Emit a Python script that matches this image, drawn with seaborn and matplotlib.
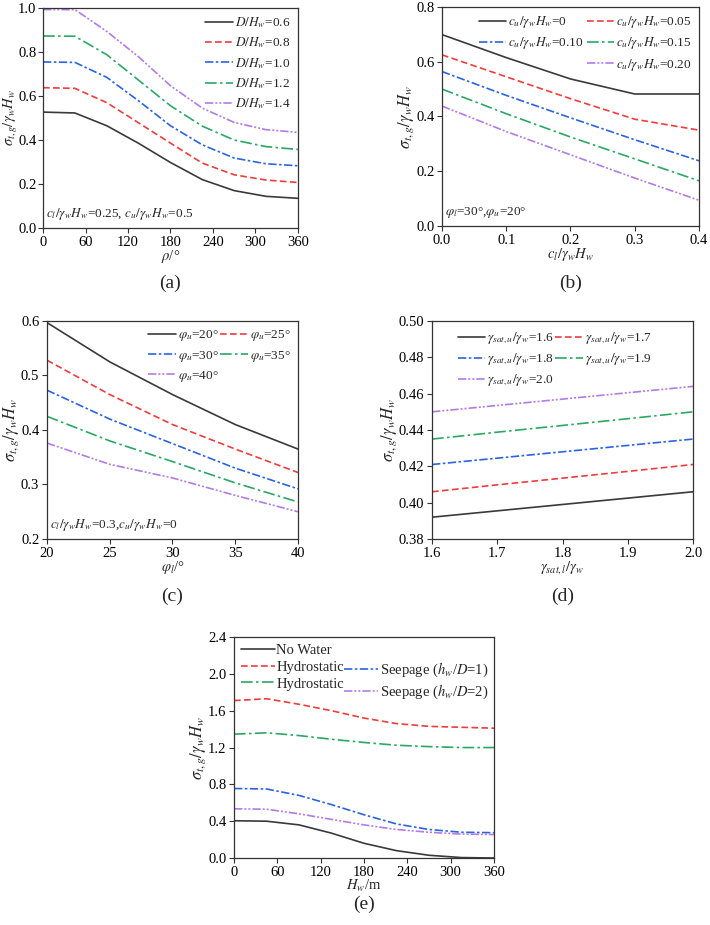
import numpy as np
import pandas as pd
import seaborn as sns
import matplotlib.pyplot as plt
from matplotlib.lines import Line2D

sns.set_style('ticks')
plt.rcParams['font.family'] = ['Liberation Serif', 'DejaVu Serif']
plt.rcParams['mathtext.fontset'] = 'stix'
plt.rcParams['font.size'] = 9.5
plt.rcParams['xtick.labelsize'] = 10.5
plt.rcParams['ytick.labelsize'] = 10.5
plt.rcParams['axes.labelsize'] = 10.5
plt.rcParams['axes.edgecolor'] = '#333333'
plt.rcParams['axes.linewidth'] = 0.9
plt.rcParams['xtick.color'] = '#333333'
plt.rcParams['ytick.color'] = '#333333'
plt.rcParams['xtick.labelcolor'] = 'black'
plt.rcParams['ytick.labelcolor'] = 'black'
plt.rcParams['xtick.major.size'] = 3.5
plt.rcParams['ytick.major.size'] = 3.5
plt.rcParams['xtick.major.pad'] = 2.5
plt.rcParams['ytick.major.pad'] = 2.0

# ---- data ----
# (a)
rho = [0, 45, 90, 135, 180, 225, 270, 315, 360]
a_labels = ['0.6', '0.8', '1.0', '1.2', '1.4']
a_06 = [0.527, 0.523, 0.465, 0.385, 0.298, 0.220, 0.170, 0.144, 0.135]
a_08 = [0.638, 0.635, 0.570, 0.478, 0.386, 0.295, 0.242, 0.218, 0.207]
a_10 = [0.755, 0.753, 0.685, 0.578, 0.465, 0.378, 0.318, 0.292, 0.283]
a_12 = [0.873, 0.872, 0.788, 0.672, 0.556, 0.463, 0.400, 0.370, 0.357]
a_14 = [0.993, 0.993, 0.894, 0.778, 0.647, 0.545, 0.480, 0.447, 0.435]

# (b)
cl = [0.0, 0.1, 0.2, 0.3, 0.4]
b_labels = ['0', '0.05', '0.10', '0.15', '0.20']
b_000 = [0.699, 0.615, 0.537, 0.482, 0.482]
b_005 = [0.625, 0.545, 0.465, 0.390, 0.350]
b_010 = [0.564, 0.477, 0.395, 0.315, 0.238]
b_015 = [0.500, 0.410, 0.325, 0.245, 0.165]
b_020 = [0.438, 0.345, 0.260, 0.175, 0.094]

# (c)
phil = [20, 25, 30, 35, 40]
c_labels = ['20°', '25°', '30°', '35°', '40°']
c_20 = [0.597, 0.525, 0.465, 0.410, 0.365]
c_25 = [0.528, 0.465, 0.410, 0.365, 0.322]
c_30 = [0.473, 0.420, 0.375, 0.330, 0.292]
c_35 = [0.425, 0.380, 0.342, 0.303, 0.268]
c_40 = [0.376, 0.337, 0.312, 0.280, 0.250]

# (d)
gsat = [1.6, 1.7, 1.8, 1.9, 2.0]
d_labels = ['1.6', '1.7', '1.8', '1.9', '2.0']
d_16 = [0.392, 0.3955, 0.399, 0.4025, 0.406]
d_17 = [0.406, 0.4098, 0.4135, 0.4172, 0.421]
d_18 = [0.421, 0.4245, 0.428, 0.4315, 0.435]
d_19 = [0.435, 0.4388, 0.4425, 0.4462, 0.450]
d_20 = [0.450, 0.4535, 0.457, 0.4605, 0.464]

# (e)
hw = [0, 45, 90, 135, 180, 225, 270, 315, 360]
e_labels = ['No Water', 'Hydrostatic', 'Seepage ($h_w$/$D$=1)',
            'Hydrostatic', 'Seepage ($h_w$/$D$=2)']
e_none = [0.405, 0.400, 0.360, 0.270, 0.160, 0.080, 0.030, 0.005, 0.0]
e_hyd1 = [1.710, 1.730, 1.670, 1.600, 1.520, 1.460, 1.430, 1.420, 1.410]
e_seep1 = [0.755, 0.750, 0.680, 0.580, 0.470, 0.370, 0.310, 0.280, 0.275]
e_hyd2 = [1.345, 1.360, 1.330, 1.290, 1.255, 1.225, 1.210, 1.200, 1.200]
e_seep2 = [0.535, 0.530, 0.480, 0.420, 0.360, 0.310, 0.280, 0.260, 0.255]

colors = ['#3a3a3a', '#f03c3c', '#2a64e0', '#2aa864', '#b27be8']
styles = ['-', (0, (4, 2)), (0, (5, 1.5, 1.5, 1.5)),
          (0, (7, 2, 1.5, 2)), (0, (5, 1.2, 1.2, 1.2, 1.2, 1.2))]

ylab = r'$\sigma_{t,g}/\gamma_w H_w$'

fig = plt.figure(figsize=(7.1, 9.25), dpi=100)


def panel(rect, x, series, labels, order, xlim, ylim, xticks, yticks,
          xlabel, tag, tag_y, leg_kw):
    ax = fig.add_axes(rect)
    hs = []
    for i, y in enumerate(series):
        sns.lineplot(x=x, y=y, ax=ax, color=colors[i], linestyle=styles[i],
                     linewidth=1.2)
        hs.append(Line2D([], [], color=colors[i], linestyle=styles[i],
                         linewidth=1.2))
    ax.set_xlim(xlim)
    ax.set_ylim(ylim)
    ax.set_xticks(xticks)
    ax.set_yticks(yticks)
    ax.set_xlabel(xlabel, labelpad=-1)
    ax.set_ylabel(ylab, labelpad=0, fontsize=12)
    blank = Line2D([], [], color='none')
    hh = [hs[k] if k is not None else blank for k in order]
    ll = [labels[k] if k is not None else '' for k in order]
    kw = dict(frameon=False, handlelength=2.1, handletextpad=0.15,
              labelspacing=0.4, columnspacing=0.3, borderaxespad=0.15)
    kw.update(leg_kw)
    ax.legend(hh, ll, **kw)
    ax.text(0.5, tag_y, tag, transform=ax.transAxes, ha='center',
            va='center', fontsize=14)
    return ax


ax = panel([0.0606, 0.7535, 0.359, 0.2378], rho,
           [a_06, a_08, a_10, a_12, a_14],
           ['$D/H_w$=' + s for s in a_labels], [0, 1, 2, 3, 4],
           (0, 360), (0, 1.0), np.arange(0, 361, 60),
           np.arange(0, 1.01, 0.2), r'$\rho$/°', '(a)', -0.25,
           dict(loc='upper right', ncol=1, labelspacing=0.42))
ax.set_ylabel(ylab, fontsize=10.5)
ax.yaxis.set_label_coords(-0.092, 0.5)
ax.tick_params(axis='y', pad=1.2)
ax.text(0.01, 0.05, r'$c_l/\gamma_w H_w$=0.25, $c_u/\gamma_w H_w$=0.5',
        transform=ax.transAxes)

ax = panel([0.6225, 0.7557, 0.362, 0.2368], cl,
           [b_000, b_005, b_010, b_015, b_020],
           [r'$c_u/\gamma_w H_w$=' + s for s in b_labels],
           [0, 2, None, 1, 3, 4],
           (0, 0.4), (0, 0.8), np.arange(0, 0.41, 0.1),
           np.arange(0, 0.81, 0.2), r'$c_l/\gamma_w H_w$', '(b)', -0.26,
           dict(loc='upper right', ncol=2, columnspacing=0.2))
ax.text(0.01, 0.05, r'$\varphi_l$=30°,$\varphi_u$=20°',
        transform=ax.transAxes)

ax = panel([0.0662, 0.4173, 0.3535, 0.2357], phil,
           [c_20, c_25, c_30, c_35, c_40],
           [r'$\varphi_u$=' + s for s in c_labels], [0, 2, 4, 1, 3],
           (20, 40), (0.2, 0.6), np.arange(20, 41, 5),
           np.arange(0.2, 0.61, 0.1), r'$\varphi_l$/°', '(c)', -0.265,
           dict(loc='upper right', ncol=2, columnspacing=0.1))
ax.text(0.01, 0.05, r'$c_l/\gamma_w H_w$=0.3,$c_u/\gamma_w H_w$=0',
        transform=ax.transAxes)

ax = panel([0.6085, 0.4173, 0.3676, 0.2357], gsat,
           [d_16, d_17, d_18, d_19, d_20],
           [r'$\gamma_{sat,u}/\gamma_w$=' + s for s in d_labels],
           [0, 2, 4, 1, 3],
           (1.6, 2.0), (0.38, 0.50), np.arange(1.6, 2.01, 0.1),
           np.arange(0.38, 0.501, 0.02), r'$\gamma_{sat,l}/\gamma_w$', '(d)',
           -0.265,
           dict(loc='upper left', ncol=2, bbox_to_anchor=(0.07, 0.99),
                columnspacing=0.1))
ax.xaxis.set_major_formatter(plt.FormatStrFormatter('%.1f'))
ax.yaxis.set_major_formatter(plt.FormatStrFormatter('%.2f'))

ax = panel([0.3296, 0.0724, 0.3662, 0.2389], hw,
           [e_none, e_hyd1, e_seep1, e_hyd2, e_seep2],
           e_labels, [0, 1, 3, None, 2, 4],
           (0, 360), (0, 2.4), np.arange(0, 361, 60),
           np.arange(0, 2.41, 0.4), r'$H_w$/m', '(e)', -0.21,
           dict(loc='upper left', ncol=2, borderaxespad=0.05,
                handlelength=2.35, handletextpad=0.1, columnspacing=0.0,
                fontsize=10.5, labelspacing=0.25))
ax.yaxis.set_major_formatter(plt.FormatStrFormatter('%.1f'))

for a in fig.axes:
    for s in a.spines.values():
        s.set_visible(True)

fig.savefig('out.png', dpi=100)
